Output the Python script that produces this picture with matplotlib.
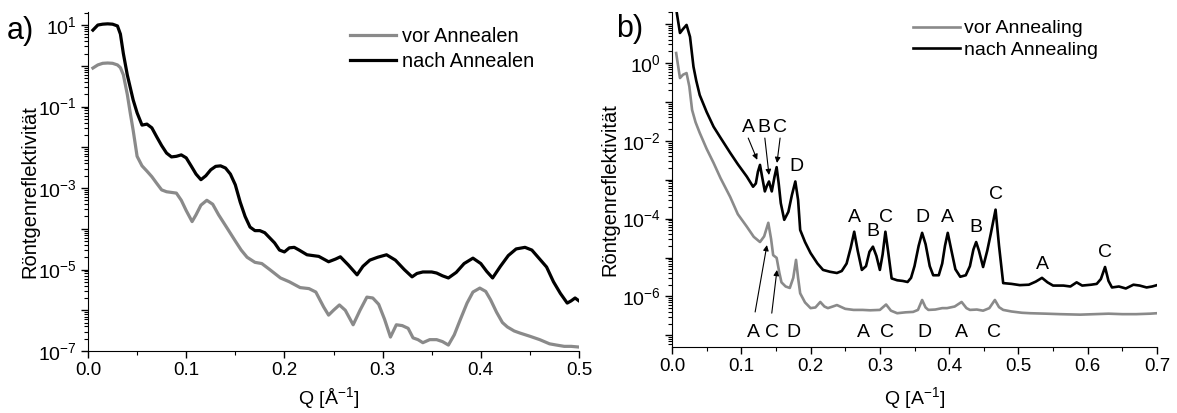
import numpy as np
import matplotlib
matplotlib.use("Agg")
import matplotlib.pyplot as plt
from matplotlib.ticker import LogLocator, FuncFormatter, MultipleLocator, NullFormatter

plt.rcParams['font.family'] = ['Liberation Sans', 'DejaVu Sans']
plt.rcParams['mathtext.fontset'] = 'custom'
plt.rcParams['mathtext.rm'] = 'Liberation Sans'
plt.rcParams['mathtext.it'] = 'Liberation Sans:italic'
plt.rcParams['mathtext.default'] = 'regular'

# ---------------- Panel a data ----------------
qa_nach = [0.005, 0.010, 0.015, 0.020, 0.025, 0.030, 0.033, 0.036, 0.040, 0.046, 0.050, 0.055,
           0.060, 0.065, 0.070, 0.075, 0.080, 0.085, 0.090, 0.095, 0.100, 0.105, 0.110, 0.115,
           0.120, 0.125, 0.130, 0.135, 0.140, 0.145, 0.150, 0.155, 0.160, 0.165, 0.170, 0.175,
           0.180, 0.185, 0.190, 0.195, 0.200, 0.205, 0.210, 0.215, 0.223, 0.235, 0.245, 0.252,
           0.257, 0.265, 0.274, 0.280, 0.287, 0.295, 0.304, 0.313, 0.322, 0.330, 0.335, 0.341,
           0.350, 0.355, 0.361, 0.367, 0.375, 0.383, 0.392, 0.400, 0.406, 0.412, 0.420, 0.428,
           0.436, 0.445, 0.452, 0.460, 0.467, 0.474, 0.481, 0.488, 0.492, 0.496, 0.500]
ra_nach = [7.5, 10, 10.5, 10.7, 10.5, 9.5, 6, 2.0, 0.6, 0.145, 0.07, 0.035,
           0.037, 0.03, 0.018, 0.011, 0.0072, 0.0058, 0.006, 0.0065, 0.0055, 0.0035, 0.0022, 0.0016,
           0.0020, 0.0028, 0.0034, 0.0035, 0.0031, 0.0022, 0.0012, 0.00045, 0.0002, 0.00011, 9e-5, 9e-5,
           8e-5, 6e-5, 4.5e-5, 3e-5, 2.7e-5, 3.4e-5, 3.5e-5, 3e-5, 2.3e-5, 2.1e-5, 1.55e-5, 1.8e-5,
           2.05e-5, 1.3e-5, 7.4e-6, 1.2e-5, 1.7e-5, 2.0e-5, 2.3e-5, 1.7e-5, 1.0e-5, 6.6e-6, 8e-6, 8.7e-6,
           8.7e-6, 8.2e-6, 7e-6, 6.2e-6, 8.5e-6, 1.4e-5, 1.9e-5, 1.4e-5, 9e-6, 6.2e-6, 1.2e-5, 2.2e-5,
           3.2e-5, 3.5e-5, 3.0e-5, 1.8e-5, 1.15e-5, 5e-6, 2.6e-6, 1.5e-6, 1.7e-6, 2.0e-6, 1.7e-6]

qa_vor = [0.005, 0.010, 0.015, 0.020, 0.025, 0.030, 0.033, 0.036, 0.040, 0.043, 0.046, 0.050,
          0.055, 0.060, 0.065, 0.070, 0.075, 0.080, 0.085, 0.090, 0.095, 0.100, 0.106, 0.110,
          0.115, 0.121, 0.127, 0.133, 0.141, 0.150, 0.156, 0.162, 0.170, 0.177, 0.185, 0.196,
          0.205, 0.216, 0.225, 0.232, 0.240, 0.245, 0.250, 0.256, 0.262, 0.270, 0.277, 0.284,
          0.290, 0.296, 0.302, 0.308, 0.314, 0.320, 0.326, 0.331, 0.336, 0.341, 0.348, 0.355,
          0.361, 0.367, 0.373, 0.379, 0.386, 0.392, 0.399, 0.405, 0.410, 0.416, 0.422, 0.427,
          0.434, 0.440, 0.450, 0.460, 0.470, 0.477, 0.485, 0.492, 0.500]
ra_vor = [0.88, 1.05, 1.15, 1.17, 1.15, 1.05, 0.9, 0.6, 0.2, 0.07, 0.026, 0.006,
          0.0035, 0.0026, 0.0019, 0.0013, 0.0009, 0.00081, 0.00078, 0.00075, 0.0005, 0.00028, 0.00015, 0.00022,
          0.00038, 0.0005, 0.0004, 0.00022, 0.00011, 5e-5, 3e-5, 2e-5, 1.5e-5, 1.4e-5, 1.0e-5, 6.2e-6,
          5e-6, 3.6e-6, 3.4e-6, 2.8e-6, 1.2e-6, 7.6e-7, 1.0e-6, 1.35e-6, 1.0e-6, 4.4e-7, 1.0e-6, 2.1e-6,
          2.0e-6, 1.4e-6, 6e-7, 2.2e-7, 4.4e-7, 4.2e-7, 3.6e-7, 2.1e-7, 1.9e-7, 1.6e-7, 1.9e-7, 1.9e-7,
          1.7e-7, 1.4e-7, 2.5e-7, 5.8e-7, 1.5e-6, 2.8e-6, 3.5e-6, 2.9e-6, 1.8e-6, 9e-7, 5e-7, 3.9e-7,
          3.1e-7, 2.75e-7, 2.3e-7, 1.9e-7, 1.5e-7, 1.4e-7, 1.3e-7, 1.3e-7, 1.25e-7]

# ---------------- Panel b data ----------------
qb_nach = [0.007, 0.0115, 0.016, 0.021, 0.026, 0.031, 0.035, 0.040, 0.050, 0.060, 0.070, 0.084,
           0.095, 0.108, 0.117, 0.121, 0.124, 0.127, 0.130, 0.134, 0.137, 0.140, 0.144, 0.148,
           0.151, 0.154, 0.157, 0.162, 0.168, 0.173, 0.178, 0.182, 0.185, 0.192, 0.200, 0.210,
           0.218, 0.228, 0.238, 0.245, 0.252, 0.258, 0.263, 0.268, 0.274, 0.280, 0.285, 0.290,
           0.295, 0.300, 0.304, 0.308, 0.312, 0.317, 0.325, 0.333, 0.340, 0.345, 0.350, 0.356,
           0.361, 0.366, 0.372, 0.377, 0.385, 0.390, 0.394, 0.398, 0.403, 0.409, 0.416, 0.424,
           0.430, 0.435, 0.439, 0.443, 0.449, 0.455, 0.460, 0.467, 0.472, 0.478, 0.490, 0.502,
           0.515, 0.525, 0.534, 0.542, 0.550, 0.565, 0.575, 0.584, 0.592, 0.605, 0.613, 0.619,
           0.625, 0.630, 0.635, 0.645, 0.655, 0.666, 0.675, 0.685, 0.693, 0.700]
rb_nach = [19, 5.9, 7.5, 9.5, 4.7, 0.8, 0.35, 0.15, 0.055, 0.023, 0.012, 0.0049,
           0.0025, 0.0012, 0.00066, 0.0008, 0.0016, 0.0024, 0.0012, 0.0005, 0.0007, 0.0009, 0.0005, 0.0012,
           0.0021, 0.0008, 0.00025, 9.3e-5, 1.5e-4, 4e-4, 9e-4, 3e-4, 5.1e-5, 2.5e-5, 1.3e-5, 7e-6,
           4.8e-6, 4.3e-6, 4e-6, 4.5e-6, 7e-6, 1.8e-5, 4.6e-5, 1.5e-5, 4.8e-6, 6e-6, 1.4e-5, 1.9e-5,
           1.1e-5, 4.8e-6, 1.2e-5, 4.6e-5, 1.4e-5, 2.9e-6, 2.6e-6, 2.5e-6, 2.35e-6, 3e-6, 6e-6, 2e-5,
           4.3e-5, 2.2e-5, 6e-6, 3.5e-6, 3.5e-6, 7e-6, 2e-5, 4.3e-5, 1.6e-5, 5e-6, 3.2e-6, 3.5e-6,
           6e-6, 1.6e-5, 2.5e-5, 1.5e-5, 5.7e-6, 1.5e-5, 4e-5, 1.7e-4, 2e-5, 2.2e-6, 2.1e-6, 1.95e-6,
           2.0e-6, 2.4e-6, 3.0e-6, 2.3e-6, 1.9e-6, 1.9e-6, 1.8e-6, 2.3e-6, 1.9e-6, 2.0e-6, 2.1e-6, 2.8e-6,
           5.7e-6, 2.5e-6, 1.7e-6, 1.8e-6, 1.6e-6, 2.0e-6, 1.9e-6, 1.7e-6, 1.8e-6, 1.95e-6]

qb_vor = [0.006, 0.0115, 0.016, 0.021, 0.025, 0.029, 0.034, 0.040, 0.050, 0.060, 0.070, 0.084,
          0.095, 0.108, 0.118, 0.127, 0.133, 0.139, 0.143, 0.146, 0.151, 0.155, 0.158, 0.164,
          0.170, 0.175, 0.179, 0.182, 0.185, 0.192, 0.200, 0.207, 0.214, 0.220, 0.225, 0.232,
          0.238, 0.250, 0.262, 0.275, 0.286, 0.300, 0.309, 0.316, 0.325, 0.337, 0.348, 0.355,
          0.361, 0.366, 0.370, 0.380, 0.390, 0.397, 0.408, 0.418, 0.425, 0.430, 0.440, 0.449,
          0.458, 0.466, 0.472, 0.478, 0.490, 0.505, 0.517, 0.540, 0.560, 0.589, 0.610, 0.630,
          0.650, 0.670, 0.690, 0.700]
rb_vor = [1.8, 0.41, 0.5, 0.55, 0.25, 0.062, 0.03, 0.016, 0.0062, 0.0027, 0.0011, 0.00036,
          0.00013, 6.2e-5, 3.4e-5, 2.5e-5, 3.5e-5, 7.8e-5, 3e-5, 1.15e-5, 9.8e-6, 4e-6, 2.3e-6, 1.8e-6,
          1.65e-6, 3e-6, 8.7e-6, 3e-6, 1.2e-6, 7e-7, 5e-7, 5.2e-7, 7.2e-7, 5.5e-7, 5e-7, 5.5e-7,
          6e-7, 4.8e-7, 4.5e-7, 4.5e-7, 4.4e-7, 4.5e-7, 6.2e-7, 4.3e-7, 3.7e-7, 3.9e-7, 4e-7, 4.5e-7,
          8.1e-7, 5.2e-7, 4.5e-7, 4.6e-7, 5e-7, 5e-7, 5.5e-7, 7.2e-7, 5e-7, 4.5e-7, 4.6e-7, 4.3e-7,
          5e-7, 8.1e-7, 5.3e-7, 4.5e-7, 4.1e-7, 3.8e-7, 3.7e-7, 3.6e-7, 3.5e-7, 3.4e-7, 3.5e-7, 3.6e-7,
          3.5e-7, 3.5e-7, 3.6e-7, 3.7e-7]

labels_a = ["vor Annealen", "nach Annealen"]
labels_b = ["vor Annealing", "nach Annealing"]

GREY = "#8a8a8a"
W, H = 1177, 413
fig = plt.figure(figsize=(W / 100, H / 100), dpi=100)

def px_axes(l, t, r, b):
    return fig.add_axes([l / W, 1 - b / H, (r - l) / W, (b - t) / H])

axa = px_axes(88, 12, 579, 351)
axb = px_axes(672, 12, 1157, 347)

def style(ax, labelled):
    ax.set_yscale('log')
    for s in ['top', 'right']:
        ax.spines[s].set_visible(False)
    ax.yaxis.set_major_locator(LogLocator(base=10, numticks=30))
    ax.yaxis.set_minor_locator(LogLocator(base=10, subs=np.arange(2, 10), numticks=30))
    ax.yaxis.set_minor_formatter(NullFormatter())
    ax.yaxis.set_major_formatter(FuncFormatter(
        lambda v, p: (r'$10^{%d}$' % int(round(np.log10(v)))) if int(round(np.log10(v))) in labelled else ''))
    ax.xaxis.set_major_locator(MultipleLocator(0.1))
    ax.xaxis.set_minor_locator(MultipleLocator(0.05))
    ax.xaxis.set_major_formatter(FuncFormatter(lambda v, p: '%.1f' % v))
    ax.tick_params(which='major', direction='out', length=5, width=1, pad=3)
    ax.tick_params(axis='x', which='major', labelsize=13.5)
    ax.tick_params(axis='y', which='major', labelsize=14)
    ax.tick_params(which='minor', direction='out', length=3, width=0.8)
    ax.set_ylabel('Röntgenreflektivität', fontsize=14.5)

# Panel a
axa.plot(qa_vor, ra_vor, color=GREY, lw=2.3, label=labels_a[0])
axa.plot(qa_nach, ra_nach, color='black', lw=2.3, label=labels_a[1])
style(axa, [1, -1, -3, -5, -7])
axa.set_xlim(0, 0.5)
axa.set_ylim(1e-7, 10 ** 1.32)
axa.set_xlabel('Q [Å$^{-1}$]', fontsize=14)
axa.xaxis.set_label_coords(0.49, -0.100, transform=axa.transAxes)
axa.yaxis.set_label_coords(-0.10, 0.47)
axa.legend(loc='upper left', bbox_to_anchor=(0.534, 0.955), frameon=False, fontsize=14.3,
           handlelength=2.3, handletextpad=0.3, labelspacing=0.3, borderpad=0, borderaxespad=0)

# Panel b
axb.plot(qb_vor, rb_vor, color=GREY, lw=1.9, label=labels_b[0])
axb.plot(qb_nach, rb_nach, color='black', lw=1.9, label=labels_b[1])
style(axb, [0, -2, -4, -6])
axb.set_xlim(0, 0.7)
axb.set_ylim(10 ** -7.30, 10 ** 1.31)
axb.set_xlabel('Q [A$^{-1}$]', fontsize=14)
axb.xaxis.set_label_coords(0.50, -0.113, transform=axb.transAxes)
axb.yaxis.set_label_coords(-0.109, 0.47)
axb.legend(loc='upper left', bbox_to_anchor=(0.497, 0.977), frameon=False, fontsize=14,
           handlelength=2.4, handletextpad=0.2, labelspacing=0.2, borderpad=0, borderaxespad=0)

# peak labels in panel b
peak_text = [("A", 0.110, 10 ** -1.67), ("B", 0.133, 10 ** -1.67), ("C", 0.156, 10 ** -1.67),
             ("D", 0.180, 10 ** -2.67),
             ("A", 0.263, 10 ** -3.98), ("B", 0.290, 10 ** -4.34), ("C", 0.309, 10 ** -3.98),
             ("D", 0.361, 10 ** -3.98), ("A", 0.398, 10 ** -3.98), ("B", 0.439, 10 ** -4.24),
             ("C", 0.468, 10 ** -3.39), ("A", 0.534, 10 ** -5.19), ("C", 0.625, 10 ** -4.86),
             ("A", 0.117, 10 ** -6.92), ("C", 0.144, 10 ** -6.92), ("D", 0.175, 10 ** -6.92),
             ("A", 0.277, 10 ** -6.92), ("C", 0.311, 10 ** -6.92), ("D", 0.364, 10 ** -6.92),
             ("A", 0.418, 10 ** -6.92), ("C", 0.465, 10 ** -6.92)]
for t, x, y in peak_text:
    axb.text(x, y, t, ha='center', va='center', fontsize=14)

arrows = [((0.110, 10 ** -1.93), (0.123, 10 ** -2.49)),
          ((0.134, 10 ** -1.93), (0.140, 10 ** -2.88)),
          ((0.156, 10 ** -1.93), (0.1515, 10 ** -2.57)),
          ((0.120, 10 ** -6.40), (0.137, 10 ** -4.68)),
          ((0.144, 10 ** -6.43), (0.1515, 10 ** -5.32))]
for start, end in arrows:
    axb.annotate('', xy=end, xytext=start,
                 arrowprops=dict(arrowstyle='-|>', color='black', lw=0.8, mutation_scale=8,
                                 shrinkA=0, shrinkB=0))

fig.text(20 / W, 1 - 31 / H, 'a)', fontsize=22, ha='center', va='center')
fig.text(630 / W, 1 - 29 / H, 'b)', fontsize=22, ha='center', va='center')

fig.savefig('out.png', dpi=100)
